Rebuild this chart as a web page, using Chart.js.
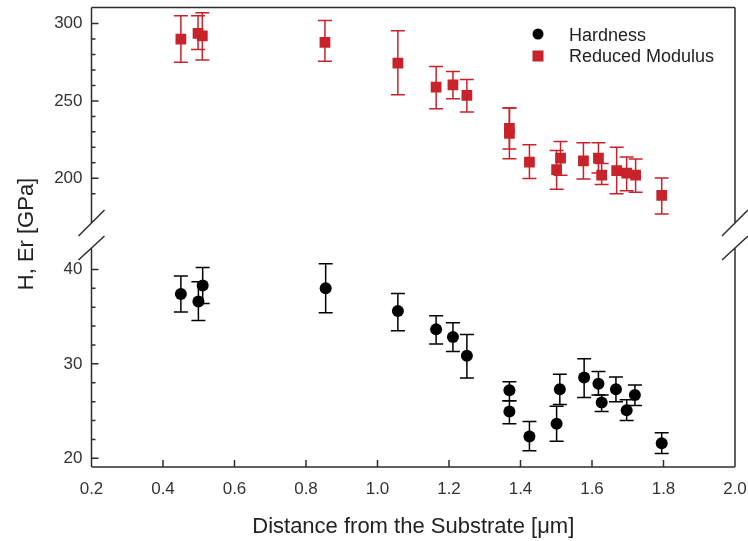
<!DOCTYPE html>
<html><head><meta charset="utf-8">
<script src="https://cdn.jsdelivr.net/npm/chart.js@4/dist/chart.umd.min.js"></script>
<style>html,body{margin:0;padding:0;background:#fff}</style>
</head><body>
<canvas id="c" width="748" height="541"></canvas>
<script>
// ---- data ----
const distH    = [0.45, 0.499, 0.511, 0.855, 1.057, 1.164, 1.211, 1.25, 1.369, 1.369, 1.425, 1.501, 1.51, 1.578, 1.618, 1.627, 1.667, 1.697, 1.72, 1.795];
const hardness = [37.4, 36.6, 38.3, 38.0, 35.6, 33.65, 32.85, 30.85, 27.2, 24.95, 22.3, 23.65, 27.3, 28.55, 27.9, 25.9, 27.3, 25.1, 26.7, 21.6];
const hardLo   = [35.5, 34.6, 36.4, 35.4, 33.5, 32.1, 31.3, 28.5, 26.1, 23.65, 20.8, 21.8, 25.7, 26.45, 26.7, 24.95, 26.0, 24.0, 25.6, 20.5];
const hardHi   = [39.3, 38.7, 40.2, 40.6, 37.45, 35.1, 34.35, 33.1, 28.1, 26.1, 23.9, 25.5, 28.9, 30.55, 29.2, 26.7, 28.6, 26.2, 27.75, 22.7];

const distE    = [0.45, 0.498, 0.51, 0.853, 1.057, 1.164, 1.211, 1.25, 1.369, 1.369, 1.425, 1.501, 1.512, 1.576, 1.618, 1.627, 1.669, 1.697, 1.722, 1.795];
const modulus  = [290, 293.6, 292, 287.8, 274.5, 258.9, 260.4, 253.6, 232.2, 229, 210.4, 205.6, 213, 211.3, 213, 202, 205, 203.4, 202, 189];
const modLo    = [275, 283.3, 276.5, 275.6, 254, 245, 251.4, 242.8, 219, 212.6, 199.8, 193, 202, 199.6, 203.4, 196, 190, 192, 191, 177];
const modHi    = [305, 305, 307, 302, 295.3, 272.2, 269, 263.8, 245.5, 245.5, 221.6, 218, 223.7, 223, 223, 209.6, 220, 213.7, 212.4, 200.2];

const xTicks      = [0.2, 0.4, 0.6, 0.8, 1.0, 1.2, 1.4, 1.6, 1.8, 2.0];
const modTicks    = [190, 200, 210, 220, 230, 240, 250, 260, 270, 280, 290, 300];
const modLabels   = [200, 250, 300];
const hardTicks   = [20, 22, 24, 26, 28, 30, 32, 34, 36, 38, 40];
const hardLabels  = [20, 30, 40];

const seriesNames = ['Hardness', 'Reduced Modulus'];
const xTitle = 'Distance from the Substrate [\u03bcm]';
const yTitle = 'H, Er [GPa]';

// ---- style ----
const RED = '#c8232b';
const BLACK = '#000000';
const FRAME = '#2e2e2e';
const FONT = '"Liberation Sans", Arial, Helvetica, sans-serif';
const BREAK_Y1 = 223, BREAK_Y2 = 248;

const errorBars = {
  id: 'errorBars',
  beforeDatasetsDraw(chart) {
    const ctx = chart.ctx;
    chart.data.datasets.forEach((ds, i) => {
      const xs = chart.scales.x, ys = chart.scales[ds.yAxisID];
      ctx.save();
      ctx.strokeStyle = ds.borderColor;
      ctx.lineWidth = 1.5;
      ds.data.forEach((p, j) => {
        const px = xs.getPixelForValue(p.x);
        const lo = ys.getPixelForValue(ds.errLo[j]);
        const hi = ys.getPixelForValue(ds.errHi[j]);
        ctx.beginPath();
        ctx.moveTo(px, lo); ctx.lineTo(px, hi);
        ctx.moveTo(px - 7, lo); ctx.lineTo(px + 7, lo);
        ctx.moveTo(px - 7, hi); ctx.lineTo(px + 7, hi);
        ctx.stroke();
      });
      ctx.restore();
    });
  }
};

const frame = {
  id: 'frame',
  afterDraw(chart) {
    const ctx = chart.ctx, a = chart.chartArea;
    ctx.save();
    ctx.strokeStyle = FRAME;
    ctx.lineWidth = 1.5;
    ctx.beginPath();
    ctx.moveTo(a.left, a.top); ctx.lineTo(a.right, a.top);
    ctx.moveTo(a.left, a.bottom); ctx.lineTo(a.right, a.bottom);
    [a.left, a.right].forEach(x => {
      ctx.moveTo(x, a.top); ctx.lineTo(x, BREAK_Y1);
      ctx.moveTo(x, BREAK_Y2); ctx.lineTo(x, a.bottom);
      ctx.moveTo(x - 13, BREAK_Y1 + 13); ctx.lineTo(x + 13, BREAK_Y1 - 13);
      ctx.moveTo(x - 13, BREAK_Y2 + 12); ctx.lineTo(x + 13, BREAK_Y2 - 12);
    });
    const yE = chart.scales.yE, yH = chart.scales.yH, xs = chart.scales.x;
    modTicks.forEach(v => {
      const y = yE.getPixelForValue(v), L = modLabels.includes(v) ? 7 : 4;
      ctx.moveTo(a.left, y); ctx.lineTo(a.left + L, y);
    });
    hardTicks.forEach(v => {
      const y = yH.getPixelForValue(v), L = hardLabels.includes(v) ? 7 : 4;
      ctx.moveTo(a.left, y); ctx.lineTo(a.left + L, y);
    });
    xTicks.forEach(v => {
      const x = xs.getPixelForValue(v);
      ctx.moveTo(x, a.bottom); ctx.lineTo(x, a.bottom - 7);
    });
    ctx.stroke();

    // legend
    ctx.fillStyle = BLACK;
    ctx.beginPath(); ctx.arc(538, 34, 5.5, 0, Math.PI * 2); ctx.fill();
    ctx.fillStyle = RED;
    ctx.fillRect(538 - 5.5, 56 - 5.5, 11, 11);
    ctx.fillStyle = '#222';
    ctx.font = '18px ' + FONT;
    ctx.textAlign = 'left';
    ctx.textBaseline = 'alphabetic';
    ctx.fillText(seriesNames[0], 569, 41);
    ctx.fillText(seriesNames[1], 569, 62);

    // axis titles
    ctx.font = '22px ' + FONT;
    ctx.textAlign = 'center';
    ctx.fillText(xTitle, (a.left + a.right) / 2, 533);
    ctx.translate(33, 234);
    ctx.rotate(-Math.PI / 2);
    ctx.fillText(yTitle, 0, 0);
    ctx.restore();
  }
};

const tickFont = { family: FONT, size: 17 };
function yAxis(min, max, ticks, labels, weight) {
  return {
    type: 'linear', position: 'left', stack: 'ys', stackWeight: weight,
    min, max,
    afterBuildTicks: s => { s.ticks = ticks.map(v => ({ value: v })); },
    ticks: { autoSkip: false, font: tickFont, color: '#333', padding: 9,
             callback: v => labels.includes(v) ? String(v) : '' },
    grid: { display: false, drawTicks: false },
    border: { display: false },
    afterFit: s => { s.width = 91.5; s.paddingTop = 0; s.paddingBottom = 0; }
  };
}

new Chart(document.getElementById('c'), {
  type: 'scatter',
  data: {
    datasets: [
      { label: seriesNames[0], yAxisID: 'yH',
        data: distH.map((x, i) => ({ x, y: hardness[i] })),
        errLo: hardLo, errHi: hardHi,
        pointStyle: 'circle', pointRadius: 6, pointHoverRadius: 6,
        backgroundColor: BLACK, borderColor: BLACK, borderWidth: 0 },
      { label: seriesNames[1], yAxisID: 'yE',
        data: distE.map((x, i) => ({ x, y: modulus[i] })),
        errLo: modLo, errHi: modHi,
        pointStyle: 'rect', pointRadius: 7.6, pointHoverRadius: 7.6,
        backgroundColor: RED, borderColor: RED, borderWidth: 0 }
    ]
  },
  options: {
    responsive: false, animation: false, devicePixelRatio: 1,
    layout: { padding: { left: 0, right: 13, top: 5, bottom: 0 } },
    plugins: { legend: { display: false }, tooltip: { enabled: false } },
    scales: {
      x: {
        type: 'linear', min: 0.2, max: 2.0,
        afterBuildTicks: s => { s.ticks = xTicks.map(v => ({ value: v })); },
        ticks: { autoSkip: false, maxRotation: 0, font: tickFont, color: '#333', padding: 12,
                 callback: v => v.toFixed(1) },
        grid: { display: false, drawTicks: false },
        border: { display: false },
        afterFit: s => { s.height = 74; s.paddingLeft = 0; s.paddingRight = 0; }
      },
      yH: yAxis(19.08, 43.45, hardTicks, hardLabels, 231.5),
      yE: yAxis(162.2, 310.3, modTicks, modLabels, 230.5)
    }
  },
  plugins: [errorBars, frame]
});
</script>
</body></html>
